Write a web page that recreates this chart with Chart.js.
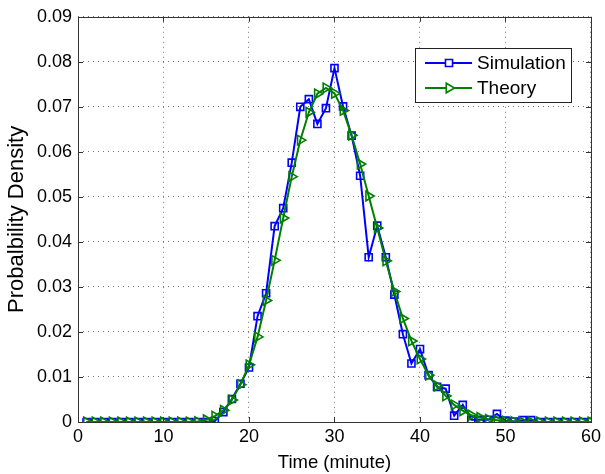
<!DOCTYPE html>
<html>
<head>
<meta charset="utf-8">
<script src="https://cdn.jsdelivr.net/npm/chart.js@4.4.0/dist/chart.umd.min.js"></script>
<style>
  html, body { margin: 0; padding: 0; background: #fff; }
  canvas { display: block; }
</style>
</head>
<body>
<canvas id="densityChart" width="605" height="474"></canvas>
<script>
var minutes = [];
for (var m = 1; m <= 60; m++) minutes.push(m);

var simulation = [
    0, 0, 0, 0, 0, 0, 0, 0, 0, 0,
    0, 0, 0, 0, 0, 0.0002, 0.0022, 0.0051, 0.0085, 0.0121,
    0.0235, 0.0286, 0.0435, 0.0475, 0.0576, 0.0700, 0.0717, 0.0662, 0.0697, 0.0786,
    0.0701, 0.0636, 0.0547, 0.0366, 0.0436, 0.0366, 0.0283, 0.0195, 0.0130, 0.0162,
    0.0104, 0.0078, 0.0074, 0.0014, 0.0038, 0.0005, 0.0005, 0.0005, 0.0018, 0.0003,
    0.0001, 0.0004, 0.0004, 0, 0, 0, 0, 0, 0, 0
];

var theory = [
    0, 0, 0, 0, 0, 0, 0, 0, 0, 0,
    0, 0, 0, 0.0001, 0.0005, 0.0013, 0.0026, 0.0049, 0.0083, 0.0127,
    0.0189, 0.0270, 0.0359, 0.0453, 0.0545, 0.0626, 0.0688, 0.0729, 0.0742, 0.0730,
    0.0692, 0.0637, 0.0573, 0.0502, 0.0431, 0.0358, 0.0290, 0.0230, 0.0180, 0.0140,
    0.0104, 0.0080, 0.0058, 0.0038, 0.0025, 0.0015, 0.0010, 0.0006, 0.0004, 0.0002,
    0.0001, 0, 0, 0, 0, 0, 0, 0, 0, 0
];

var xTicks = [0, 10, 20, 30, 40, 50, 60];
var yTicks = [0, 0.01, 0.02, 0.03, 0.04, 0.05, 0.06, 0.07, 0.08, 0.09];
var seriesNames = ["Simulation", "Theory"];

function toPoints(ys) {
    return minutes.map(function (x, i) { return { x: x, y: ys[i] }; });
}

var FONT = "'Liberation Sans', Arial, Helvetica, sans-serif";

// box, inward ticks and legend in the MATLAB style
var matlabFrame = {
    id: "matlabFrame",
    afterDraw: function (chart) {
        var ctx = chart.ctx;
        var a = chart.chartArea;
        var xs = chart.scales.x, ys = chart.scales.y;
        ctx.save();
        ctx.strokeStyle = "#333";
        ctx.lineWidth = 1;
        ctx.strokeRect(Math.round(a.left) + 0.5, Math.round(a.top) + 0.5,
            Math.round(a.right - a.left), Math.round(a.bottom - a.top));
        ctx.beginPath();
        xTicks.forEach(function (v) {
            var px = Math.round(xs.getPixelForValue(v)) + 0.5;
            ctx.moveTo(px, a.bottom); ctx.lineTo(px, a.bottom - 5);
            ctx.moveTo(px, a.top); ctx.lineTo(px, a.top + 5);
        });
        yTicks.forEach(function (v) {
            var py = Math.round(ys.getPixelForValue(v)) + 0.5;
            ctx.moveTo(a.left, py); ctx.lineTo(a.left + 5, py);
            ctx.moveTo(a.right, py); ctx.lineTo(a.right - 5, py);
        });
        ctx.stroke();

        // legend
        var bx = 415.5, by = 48.5, bw = 156, bh = 54;
        ctx.fillStyle = "#fff";
        ctx.fillRect(bx, by, bw, bh);
        ctx.strokeStyle = "#222";
        ctx.strokeRect(bx, by, bw, bh);
        ctx.font = "19px " + FONT;
        ctx.textBaseline = "middle";
        chart.data.datasets.forEach(function (ds, i) {
            var ly = 63 + i * 25;
            ctx.strokeStyle = ds.borderColor;
            ctx.lineWidth = 2;
            ctx.beginPath();
            ctx.moveTo(425, ly); ctx.lineTo(472, ly);
            ctx.stroke();
            ctx.lineWidth = ds.pointBorderWidth;
            ctx.fillStyle = "#fff";
            Chart.helpers.drawPoint(ctx, {
                pointStyle: ds.pointStyle, rotation: ds.pointRotation,
                radius: ds.pointRadius, borderWidth: ds.pointBorderWidth
            }, 449, ly);
            ctx.fillStyle = "#000";
            ctx.fillText(ds.label, 477, ly + 1);
        });
        ctx.restore();
    }
};

new Chart("densityChart", {
    type: "line",
    data: {
        datasets: [{
            label: seriesNames[0],
            data: toPoints(simulation),
            borderColor: "#0000ff",
            backgroundColor: "rgba(0,0,0,0)",
            borderWidth: 2,
            pointStyle: "rect",
            pointRadius: 5,
            pointBorderWidth: 1.6,
            pointRotation: 0,
            fill: false,
            tension: 0,
            order: 2
        }, {
            label: seriesNames[1],
            data: toPoints(theory),
            borderColor: "#008000",
            backgroundColor: "rgba(0,0,0,0)",
            borderWidth: 2,
            pointStyle: "triangle",
            pointRadius: 5.5,
            pointBorderWidth: 1.6,
            pointRotation: 90,
            fill: false,
            tension: 0,
            order: 1
        }]
    },
    options: {
        responsive: false,
        animation: false,
        layout: { padding: { top: 16, right: 11, left: 0, bottom: 0 } },
        plugins: {
            legend: { display: false },
            tooltip: { enabled: false }
        },
        scales: {
            x: {
                type: "linear",
                min: 0,
                max: 60,
                afterBuildTicks: function (s) { s.ticks = xTicks.map(function (v) { return { value: v }; }); },
                afterFit: function (s) { s.height = 52; },
                ticks: {
                    color: "#000",
                    padding: 4,
                    maxRotation: 0,
                    autoSkip: false,
                    font: { family: FONT, size: 18 }
                },
                grid: {
                    color: "#777",
                    lineWidth: 1,
                    drawTicks: false
                },
                border: { display: false, dash: [1, 4] },
                title: {
                    display: true,
                    text: "Time (minute)",
                    color: "#000",
                    padding: { top: 0, bottom: 0 },
                    font: { family: FONT, size: 18.5 }
                }
            },
            y: {
                min: 0,
                max: 0.09,
                afterBuildTicks: function (s) { s.ticks = yTicks.map(function (v) { return { value: v }; }); },
                afterFit: function (s) { s.width = 78; },
                ticks: {
                    color: "#000",
                    padding: 6,
                    autoSkip: false,
                    font: { family: FONT, size: 18 },
                    callback: function (v) { return String(Math.round(v * 100) / 100); }
                },
                grid: {
                    color: "#777",
                    lineWidth: 1,
                    drawTicks: false
                },
                border: { display: false, dash: [1, 4] },
                title: {
                    display: true,
                    text: "Probalbility Density",
                    color: "#000",
                    padding: { top: 4, bottom: 0 },
                    font: { family: FONT, size: 22 }
                }
            }
        }
    },
    plugins: [matlabFrame]
});
</script>
</body>
</html>
